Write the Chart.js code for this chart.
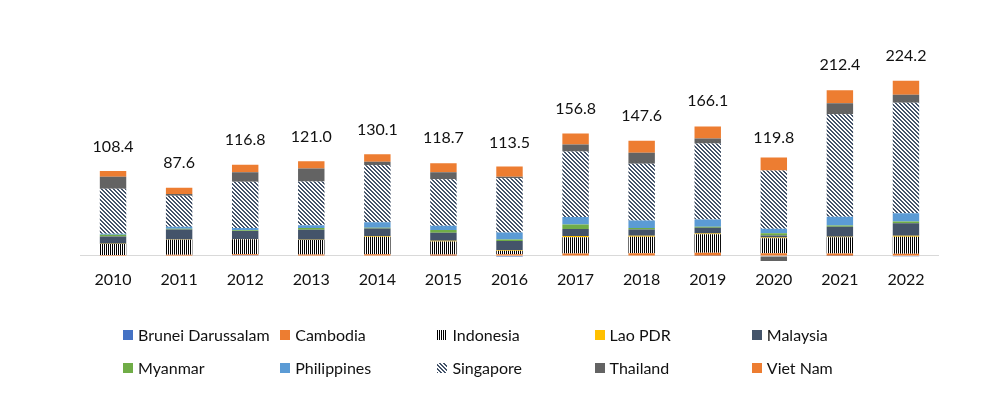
<!DOCTYPE html>
<html lang="en">
<head>
    <meta charset="UTF-8">
    <script src="https://cdn.jsdelivr.net/npm/chart.js@4.4.0/dist/chart.umd.min.js"></script>
    <title>FDI inflows ASEAN</title>
    <style>
        body { margin: 0; background: white; font-family: Lato, sans-serif; }
        .wrap { position: relative; width: 1005px; height: 398px; }
        .chart-box { position: absolute; left: 0; top: 0; width: 1005px; height: 300px; }
        .legend { position: absolute; left: 0; top: 0; width: 1005px; height: 398px; pointer-events: none; }
        .legend .item { position: absolute; font-size: 16px; color: #111; line-height: 20px; white-space: nowrap; }
        .legend .sw { position: absolute; width: 10px; height: 10px; top: 5px; left: 0; }
        .legend .tx { position: absolute; left: 15px; top: 0; }
    </style>
</head>
<body>
<div class="wrap">
    <div class="chart-box"><canvas id="fdiChart"></canvas></div>
    <div class="legend" id="legend"></div>
</div>
<script>
    var years = ['2010', '2011', '2012', '2013', '2014', '2015', '2016', '2017', '2018', '2019', '2020', '2021', '2022'];
    var totals = [108.4, 87.6, 116.8, 121.0, 130.1, 118.7, 113.5, 156.8, 147.6, 166.1, 119.8, 212.4, 224.2];

    var brunei      = [0.5, 0.5, 0.8, 0.7, 0.6, 0.2, -1.2, 0.5, 0.5, 0.4, 0.6, 0.2, -0.3];
    var cambodia    = [0.8, 1.0, 1.5, 1.3, 1.7, 1.7, 2.3, 2.6, 3.1, 3.7, 3.0, 3.0, 3.0];
    var indonesia   = [14.1, 19.2, 19.2, 18.4, 22.2, 16.6, 4.3, 20.9, 20.9, 23.9, 19.2, 20.9, 21.8];
    var laoPdr      = [0.3, 0.3, 0.3, 0.4, 1.0, 1.1, 1.0, 1.7, 1.3, 0.8, 1.0, 0.5, 1.0];
    var malaysia    = [9.4, 12.8, 10.2, 12.8, 9.8, 10.2, 11.5, 9.0, 8.1, 7.3, 2.6, 12.8, 16.2];
    var myanmar     = [2.1, 1.1, 1.0, 2.1, 1.0, 3.4, 2.1, 5.5, 1.8, 1.3, 2.6, 1.7, 2.1];
    var philippines = [1.3, 2.6, 3.0, 3.8, 6.8, 5.5, 9.0, 9.8, 9.8, 9.4, 6.0, 11.1, 10.7];
    var singapore   = [57.6, 39.7, 59.0, 56.0, 73.0, 59.5, 69.5, 83.7, 72.6, 97.4, 74.5, 131.4, 141.5];
    var thailand    = [15.4, 2.1, 12.4, 16.7, 4.7, 9.0, 1.7, 9.0, 14.1, 6.4, -6.4, 14.1, 10.3];
    var vietNam     = [7.3, 8.1, 9.4, 9.0, 9.4, 11.5, 13.2, 14.1, 15.4, 15.4, 16.7, 16.7, 17.9];

    function stripePattern() {
        var c = document.createElement('canvas');
        c.width = 2; c.height = 2;
        var g = c.getContext('2d');
        g.fillStyle = '#ffffff'; g.fillRect(0, 0, 2, 2);
        g.fillStyle = '#000000'; g.fillRect(0, 0, 1, 2);
        return g.createPattern(c, 'repeat');
    }
    function hatchPattern() {
        var c = document.createElement('canvas');
        c.width = 4; c.height = 4;
        var g = c.getContext('2d');
        g.fillStyle = '#ffffff'; g.fillRect(0, 0, 4, 4);
        g.fillStyle = '#44546a';
        for (var y = 0; y < 4; y++) {
            g.fillRect(y % 4, y, 1, 1);
            g.fillRect((y + 1) % 4, y, 1, 1);
        }
        return g.createPattern(c, 'repeat');
    }

    var series = [
        { label: 'Brunei Darussalam', data: brunei, color: '#4472c4' },
        { label: 'Cambodia', data: cambodia, color: '#ed7d31' },
        { label: 'Indonesia', data: indonesia, color: stripePattern(), swatch: 'repeating-linear-gradient(90deg,#000 0 1px,#fff 1px 2px)' },
        { label: 'Lao PDR', data: laoPdr, color: '#ffc000' },
        { label: 'Malaysia', data: malaysia, color: '#44546a' },
        { label: 'Myanmar', data: myanmar, color: '#70ad47' },
        { label: 'Philippines', data: philippines, color: '#5b9bd5' },
        { label: 'Singapore', data: singapore, color: hatchPattern(), swatch: 'repeating-linear-gradient(45deg,#44546a 0 1.4px,#fff 1.4px 2.8px)' },
        { label: 'Thailand', data: thailand, color: '#636363' },
        { label: 'Viet Nam', data: vietNam, color: '#ed7d31' }
    ];

    var totalLabels = {
        id: 'totalLabels',
        afterDatasetsDraw: function(chart) {
            var ctx = chart.ctx;
            var x = chart.scales.x, y = chart.scales.y;
            ctx.save();
            ctx.font = '16px Lato';
            ctx.fillStyle = '#111';
            ctx.textAlign = 'center';
            ctx.textBaseline = 'middle';
            totals.forEach(function(t, i) {
                ctx.fillText(t.toFixed(1), x.getPixelForValue(i), y.getPixelForValue(t) - 25);
            });
            ctx.restore();
        }
    };

    var ctx = document.getElementById('fdiChart').getContext('2d');
    var fdiChart = new Chart(ctx, {
        type: 'bar',
        data: {
            labels: years,
            datasets: series.map(function(s) {
                return {
                    label: s.label,
                    data: s.data,
                    backgroundColor: s.color,
                    borderWidth: 0,
                    barPercentage: 0.4,
                    categoryPercentage: 1.0
                };
            })
        },
        options: {
            animation: { duration: 0 },
            responsive: true,
            maintainAspectRatio: false,
            layout: { padding: { left: 80, right: 66, top: 53, bottom: 5 } },
            scales: {
                x: {
                    stacked: true,
                    grid: { display: false, drawTicks: false },
                    border: { display: false },
                    ticks: { color: '#111', font: { family: 'Lato', size: 16 }, padding: 6 }
                },
                y: {
                    stacked: true,
                    min: -10,
                    max: 260,
                    ticks: { display: false, stepSize: 10 },
                    border: { display: false },
                    grid: {
                        drawTicks: false,
                        lineWidth: 1,
                        color: function(c) { return c.tick && c.tick.value === 0 ? '#d9d9d9' : 'rgba(0,0,0,0)'; }
                    }
                }
            },
            plugins: {
                legend: { display: false },
                tooltip: { enabled: false }
            }
        },
        plugins: [totalLabels]
    });

    // legend laid out in a fixed 5-column grid
    var legendEl = document.getElementById('legend');
    series.forEach(function(s, i) {
        var col = i % 5, row = Math.floor(i / 5);
        var item = document.createElement('div');
        item.className = 'item';
        item.style.left = (123 + col * 157.2) + 'px';
        item.style.top = (325 + row * 33) + 'px';
        var sw = document.createElement('span');
        sw.className = 'sw';
        sw.style.background = s.swatch || s.color;
        var tx = document.createElement('span');
        tx.className = 'tx';
        tx.textContent = s.label;
        item.appendChild(sw);
        item.appendChild(tx);
        legendEl.appendChild(item);
    });
</script>
</body>
</html>
